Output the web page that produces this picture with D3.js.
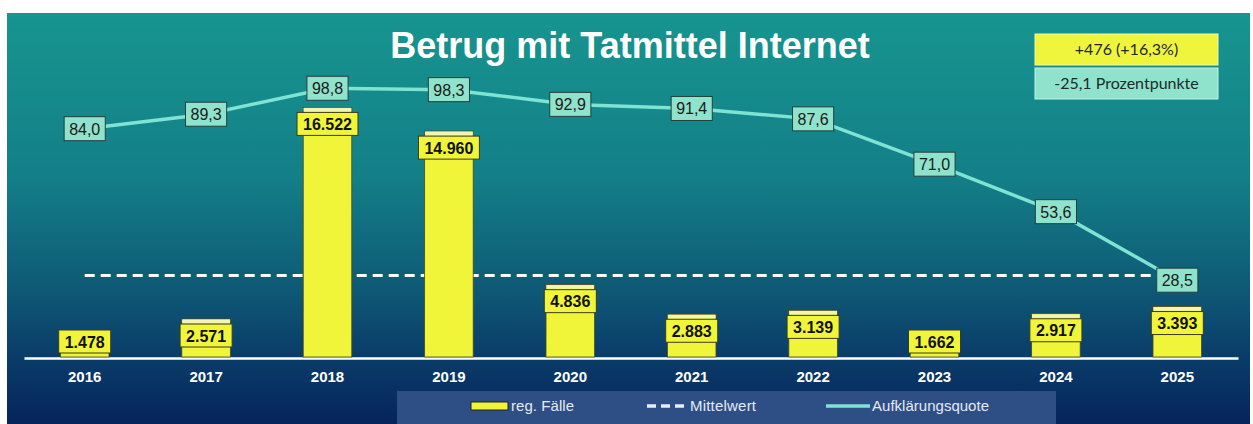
<!DOCTYPE html>
<html>
<head>
<meta charset="utf-8">
<script src="https://cdn.jsdelivr.net/npm/d3@7"></script>
<style>
  html, body { margin: 0; padding: 0; background: #ffffff; }
  svg { display: block; }
</style>
</head>
<body>
<svg id="chart" width="1253" height="424"></svg>
<script>
// values
var years = ["2016", "2017", "2018", "2019", "2020", "2021", "2022", "2023", "2024", "2025"];
var cases = [1478, 2571, 16522, 14960, 4836, 2883, 3139, 1662, 2917, 3393];
var clearance = [84.0, 89.3, 98.8, 98.3, 92.9, 91.4, 87.6, 71.0, 53.6, 28.5];
var infoLines = ["+476 (+16,3%)", "-25,1 Prozentpunkte"];
var legendLabels = ["reg. Fälle", "Mittelwert", "Aufklärungsquote"];

var de = d3.formatLocale({decimal: ",", thousands: ".", grouping: [3]});
var fmtCases = de.format(",d");
var fmtRate = de.format(".1f");

var svg = d3.select("#chart");
var W = 1253, H = 424;
var baseY = 358;

// background panel with vertical gradient
var defs = svg.append("defs");
var grad = defs.append("linearGradient")
    .attr("id", "bg")
    .attr("x1", 0).attr("y1", 0).attr("x2", 0).attr("y2", 1);
grad.append("stop").attr("offset", "0%").attr("stop-color", "#17958f");
grad.append("stop").attr("offset", "40%").attr("stop-color", "#137f88");
grad.append("stop").attr("offset", "68%").attr("stop-color", "#0e5875");
grad.append("stop").attr("offset", "84%").attr("stop-color", "#0a3c69");
grad.append("stop").attr("offset", "100%").attr("stop-color", "#06245c");

svg.append("rect")
    .attr("x", 7)
    .attr("y", 13)
    .attr("width", 1243)
    .attr("height", H - 13)
    .attr("fill", "url(#bg)");

// title
svg.append("text")
    .attr("x", 630)
    .attr("y", 58)
    .attr("text-anchor", "middle")
    .attr("fill", "#ffffff")
    .attr("font-family", "Liberation Sans, Arial, sans-serif")
    .attr("font-weight", "bold")
    .attr("font-size", 36)
    .text("Betrug mit Tatmittel Internet");

// info boxes top right
var infoFill = ["#eef53c", "#8fe3cc"];
var infoStroke = ["#f6f9a0", "#c4f2e4"];
for (var k = 0; k < infoLines.length; k++) {
    svg.append("rect")
        .attr("x", 1035)
        .attr("y", 34 + k * 34)
        .attr("width", 183)
        .attr("height", 31)
        .attr("fill", infoFill[k])
        .attr("stroke", infoStroke[k])
        .attr("stroke-width", 1);
    svg.append("text")
        .attr("x", 1126.5)
        .attr("y", 55 + k * 34)
        .attr("text-anchor", "middle")
        .attr("fill", "#1e2a2a")
        .attr("font-family", "Lato, Open Sans, sans-serif")
        .attr("font-size", 16)
        .text(infoLines[k]);
}

// scales
var x = d3.scaleBand()
    .domain(years)
    .range([24, 1238])
    .paddingInner(0.6)
    .paddingOuter(0.3);
var yBar = d3.scaleLinear().domain([0, 18000]).range([baseY, 85]);
var yRate = d3.scaleLinear().domain([0, 100]).range([baseY, 85]);
var cx = function(d) { return x(d) + x.bandwidth() / 2; };

// category axis
var xAxis = svg.append("g")
    .attr("transform", "translate(0," + baseY + ")")
    .call(d3.axisBottom(x).tickSize(0).tickPadding(13));
xAxis.select(".domain")
    .attr("stroke", "#ffffff")
    .attr("stroke-width", 2.5);
xAxis.selectAll("text")
    .attr("fill", "#ffffff")
    .attr("font-family", "Liberation Sans, Arial, sans-serif")
    .attr("font-weight", "bold")
    .attr("font-size", 15);

// mean line
var mean = d3.mean(cases);
svg.append("line")
    .attr("x1", cx(years[0]))
    .attr("x2", cx(years[years.length - 1]))
    .attr("y1", yBar(mean))
    .attr("y2", yBar(mean))
    .attr("stroke", "#ffffff")
    .attr("stroke-width", 3)
    .attr("stroke-dasharray", "10,6");

// bars
var bars = svg.append("g");
for (var i = 0; i < years.length; i++) {
    var bx = x(years[i]);
    var bt = yBar(cases[i]);
    bars.append("rect")
        .attr("x", bx)
        .attr("y", bt)
        .attr("width", x.bandwidth())
        .attr("height", baseY - bt - 1)
        .attr("fill", "#f0f53a")
        .attr("stroke", "#4a4a20")
        .attr("stroke-width", 0.8);
    bars.append("rect")
        .attr("x", bx + 0.5)
        .attr("y", bt + 0.5)
        .attr("width", x.bandwidth() - 1)
        .attr("height", 3.5)
        .attr("fill", "#f3f5b0");
}

// rate line
var line = d3.line()
    .x(function(d, i) { return cx(years[i]); })
    .y(function(d) { return yRate(d); });
svg.append("path")
    .datum(clearance)
    .attr("d", line)
    .attr("fill", "none")
    .attr("stroke", "#7fe3d2")
    .attr("stroke-width", 3.5);

// bar labels
for (var i = 0; i < years.length; i++) {
    var labelTop = Math.min(yBar(cases[i]) + 5, baseY - 5 - 23);
    var g = svg.append("g");
    var box = g.append("rect");
    var t = g.append("text")
        .attr("x", cx(years[i]))
        .attr("y", labelTop + 17.5)
        .attr("text-anchor", "middle")
        .attr("fill", "#111111")
        .attr("font-family", "Liberation Sans, Arial, sans-serif")
        .attr("font-weight", "bold")
        .attr("font-size", 16)
        .text(fmtCases(cases[i]));
    var tw = t.node().getComputedTextLength();
    box.attr("x", cx(years[i]) - tw / 2 - 6)
        .attr("y", labelTop)
        .attr("width", tw + 12)
        .attr("height", 23)
        .attr("fill", "#f0f53a")
        .attr("stroke", "#3a3a20")
        .attr("stroke-width", 1);
}

// rate labels
for (var i = 0; i < years.length; i++) {
    var py = yRate(clearance[i]);
    var g = svg.append("g");
    var box = g.append("rect");
    var t = g.append("text")
        .attr("x", cx(years[i]))
        .attr("y", py + 6)
        .attr("text-anchor", "middle")
        .attr("fill", "#1a1a1a")
        .attr("font-family", "Liberation Sans, Arial, sans-serif")
        .attr("font-size", 16)
        .text(fmtRate(clearance[i]));
    var tw = t.node().getComputedTextLength();
    box.attr("x", cx(years[i]) - tw / 2 - 5)
        .attr("y", py - 12)
        .attr("width", tw + 10)
        .attr("height", 24)
        .attr("fill", "#8fe3cc")
        .attr("stroke", "#25403a")
        .attr("stroke-width", 1);
}

// legend
svg.append("rect")
    .attr("x", 397)
    .attr("y", 391)
    .attr("width", 659)
    .attr("height", 40)
    .attr("fill", "#2e4f86");

var legY = 406;
svg.append("rect")
    .attr("x", 471)
    .attr("y", legY - 4)
    .attr("width", 37)
    .attr("height", 8)
    .attr("fill", "#f0f53a")
    .attr("stroke", "#222222")
    .attr("stroke-width", 1);
svg.append("line")
    .attr("x1", 647).attr("x2", 687)
    .attr("y1", legY).attr("y2", legY)
    .attr("stroke", "#e8eef5")
    .attr("stroke-width", 3.5)
    .attr("stroke-dasharray", "9,5");
svg.append("line")
    .attr("x1", 826).attr("x2", 870)
    .attr("y1", legY).attr("y2", legY)
    .attr("stroke", "#7fe3d2")
    .attr("stroke-width", 3.5);

var legX = [511, 690, 872];
for (var k = 0; k < legendLabels.length; k++) {
    svg.append("text")
        .attr("x", legX[k])
        .attr("y", legY + 5)
        .attr("fill", "#e4eaf2")
        .attr("font-family", "Liberation Sans, Arial, sans-serif")
        .attr("font-size", 15)
        .attr("textLength", k === 2 ? 117 : (k === 0 ? 63 : 66))
        .text(legendLabels[k]);
}
</script>
</body>
</html>
